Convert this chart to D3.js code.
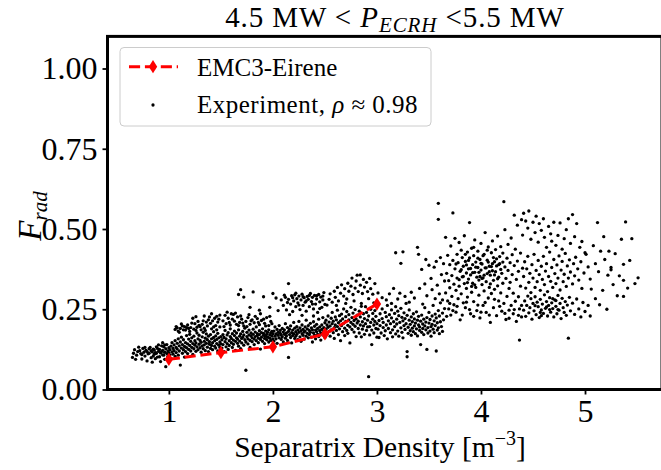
<!DOCTYPE html>
<html>
<head>
<meta charset="utf-8">
<script src="https://cdn.jsdelivr.net/npm/d3@7"></script>
<style>
  body { margin: 0; background: #fff; }
  svg text { font-family: "Liberation Serif", "DejaVu Serif", serif; fill: #000; }
</style>
</head>
<body>
<svg id="chart" width="661" height="470"></svg>
<script>
// EMC3-Eirene simulation points
const emcDensity = [1.0, 1.5, 2.0, 2.5, 3.0];
const emcFrad = [0.094, 0.115, 0.133, 0.173, 0.266];

const expLow = [
  0.65,.100, 0.66,.113, 0.67,.124, 0.69,.107, 0.70,.118, 0.72,.121, 0.73,.112, 0.74,.095, 0.75,.128, 0.76,.116,
  0.77,.104, 0.78,.122, 0.79,.118, 0.79,.089, 0.80,.111, 0.81,.113, 0.82,.131, 0.83,.121, 0.83,.099, 0.84,.117,
  0.85,.104, 0.85,.126, 0.86,.123, 0.86,.110, 0.87,.115, 0.88,.113, 0.88,.133, 0.89,.128, 0.89,.101, 0.90,.119,
  0.91,.102, 0.91,.125, 0.92,.087, 0.92,.114, 0.93,.118, 0.93,.136, 0.94,.108, 0.94,.122, 0.95,.133, 0.95,.107,
  0.96,.116, 0.96,.094, 0.97,.071, 0.97,.127, 0.98,.112, 0.98,.140, 0.99,.120, 0.99,.103, 1.00,.130, 1.00,.115,
  0.87,.096, 0.90,.139, 0.84,.085, 0.81,.127, 0.77,.131, 0.71,.132, 0.68,.094, 0.74,.109, 0.94,.146, 0.96,.139,
  1.01,.108, 1.01,.124, 1.02,.135, 1.02,.097, 1.03,.117, 1.03,.146, 1.04,.128, 1.04,.110, 1.05,.139, 1.05,.121,
  1.06,.152, 1.06,.103, 1.07,.131, 1.07,.115, 1.08,.144, 1.08,.126, 1.09,.158, 1.09,.107, 1.10,.136, 1.10,.120,
  1.11,.076, 1.11,.148, 1.12,.129, 1.12,.163, 1.13,.113, 1.13,.140, 1.14,.124, 1.14,.155, 1.15,.134, 1.15,.101,
  1.16,.146, 1.16,.118, 1.17,.168, 1.17,.130, 1.18,.142, 1.18,.112, 1.19,.157, 1.19,.125, 1.20,.137, 1.20,.172,
  1.21,.120, 1.21,.150, 1.22,.131, 1.22,.161, 1.23,.143, 1.23,.109, 1.24,.127, 1.24,.166, 1.25,.138, 1.25,.152,
  1.26,.119, 1.26,.145, 1.27,.176, 1.27,.133, 1.28,.158, 1.28,.124, 1.29,.141, 1.29,.169, 1.30,.130, 1.30,.153,
  1.31,.116, 1.31,.147, 1.32,.164, 1.32,.136, 1.33,.127, 1.33,.178, 1.34,.150, 1.34,.139, 1.35,.121, 1.35,.160,
  1.36,.144, 1.36,.173, 1.37,.132, 1.37,.155, 1.38,.118, 1.38,.166, 1.39,.141, 1.39,.149, 1.40,.128, 1.40,.171,
  1.41,.137, 1.41,.158, 1.42,.146, 1.42,.124, 1.43,.162, 1.43,.180, 1.44,.135, 1.44,.152, 1.45,.129, 1.45,.167,
  1.46,.143, 1.46,.156, 1.47,.120, 1.47,.175, 1.48,.138, 1.48,.161, 1.49,.148, 1.49,.131, 1.50,.165, 1.50,.142,
  1.06,.187, 1.07,.196, 1.09,.182, 1.11,.190, 1.13,.198, 1.15,.196, 1.16,.185, 1.18,.201, 1.19,.190, 1.21,.193,
  1.23,.222, 1.24,.188, 1.25,.205, 1.27,.194, 1.28,.212, 1.30,.196, 1.31,.186, 1.32,.203, 1.34,.191, 1.36,.210,
  1.37,.198, 1.38,.217, 1.40,.206, 1.41,.189, 1.42,.214, 1.44,.222, 1.45,.199, 1.46,.228, 1.47,.210, 1.49,.232,
  1.49,.195, 1.08,.192, 1.10,.178, 1.12,.204, 1.14,.186, 1.17,.193, 1.20,.181, 1.22,.207, 1.26,.184, 1.29,.200,
  1.33,.214, 1.35,.184, 1.39,.226, 1.43,.195, 1.48,.219, 1.46,.186, 1.26,.227, 1.34,.229, 1.41,.236
];

const expMid = [
  1.51,.129, 1.51,.155, 1.52,.171, 1.52,.140, 1.53,.118, 1.53,.162, 1.54,.149, 1.54,.184, 1.55,.133, 1.55,.158,
  1.56,.170, 1.56,.143, 1.57,.125, 1.57,.177, 1.58,.152, 1.58,.137, 1.59,.165, 1.59,.189, 1.60,.146, 1.60,.159,
  1.61,.131, 1.61,.174, 1.62,.154, 1.62,.141, 1.63,.168, 1.63,.182, 1.64,.150, 1.64,.122, 1.65,.161, 1.65,.176,
  1.66,.144, 1.66,.157, 1.67,.186, 1.67,.135, 1.68,.166, 1.68,.151, 1.69,.173, 1.69,.127, 1.70,.159, 1.70,.145,
  1.71,.181, 1.71,.163, 1.72,.138, 1.72,.170, 1.73,.155, 1.73,.191, 1.74,.060, 1.74,.148, 1.75,.165, 1.75,.178,
  1.76,.142, 1.76,.158, 1.77,.185, 1.77,.170, 1.78,.153, 1.78,.131, 1.79,.167, 1.79,.176, 1.80,.149, 1.80,.161,
  1.81,.188, 1.81,.172, 1.82,.157, 1.82,.140, 1.83,.179, 1.83,.165, 1.84,.152, 1.84,.195, 1.85,.168, 1.85,.174,
  1.86,.146, 1.86,.160, 1.87,.183, 1.87,.171, 1.88,.156, 1.88,.126, 1.89,.177, 1.89,.163, 1.90,.150, 1.90,.189,
  1.91,.169, 1.91,.175, 1.92,.159, 1.92,.143, 1.93,.182, 1.93,.166, 1.94,.172, 1.94,.155, 1.95,.178, 1.95,.163,
  1.96,.148, 1.96,.186, 1.97,.170, 1.97,.160, 1.98,.176, 1.98,.153, 1.99,.181, 1.99,.167, 2.00,.158, 2.00,.174,
  1.52,.214, 1.54,.231, 1.55,.205, 1.57,.222, 1.59,.201, 1.60,.236, 1.62,.234, 1.63,.213, 1.65,.203, 1.66,.226,
  1.68,.209, 1.70,.219, 1.72,.198, 1.74,.212, 1.76,.224, 1.78,.203, 1.80,.217, 1.82,.208, 1.85,.221, 1.87,.202,
  1.89,.215, 1.92,.206, 1.94,.224, 1.96,.199, 1.98,.212, 1.53,.196, 1.56,.241, 1.58,.209, 1.61,.219, 1.64,.238,
  1.67,.199, 1.69,.229, 1.71,.207, 1.75,.196, 1.77,.233, 1.79,.214, 1.83,.228, 1.86,.209, 1.88,.236, 1.91,.219,
  1.93,.198, 1.97,.228, 1.99,.205,
  1.67,.296, 1.69,.311, 1.72,.288, 1.81,.304, 1.91,.289, 1.97,.256, 2.00,.299, 2.03,.285, 1.87,.247, 1.78,.256,
  2.01,.151, 2.01,.182, 2.02,.166, 2.02,.195, 2.03,.173, 2.03,.158, 2.04,.187, 2.04,.144, 2.05,.169, 2.05,.178,
  2.06,.161, 2.06,.199, 2.07,.175, 2.07,.184, 2.08,.156, 2.08,.170, 2.09,.190, 2.09,.164, 2.10,.179, 2.10,.148,
  2.11,.186, 2.11,.172, 2.12,.160, 2.12,.205, 2.13,.176, 2.13,.167, 2.14,.193, 2.14,.153, 2.15,.100, 2.15,.181,
  2.16,.171, 2.16,.188, 2.17,.162, 2.17,.198, 2.18,.177, 2.18,.145, 2.19,.185, 2.19,.168, 2.20,.174, 2.20,.209,
  2.21,.159, 2.21,.191, 2.22,.180, 2.22,.166, 2.23,.196, 2.23,.172, 2.24,.155, 2.24,.186, 2.25,.178, 2.25,.212,
  2.26,.164, 2.26,.192, 2.27,.183, 2.27,.150, 2.28,.174, 2.28,.201, 2.29,.169, 2.29,.187, 2.30,.179, 2.30,.157,
  2.31,.195, 2.31,.182, 2.32,.166, 2.32,.216, 2.33,.175, 2.33,.189, 2.34,.161, 2.34,.199, 2.35,.184, 2.35,.171,
  2.36,.206, 2.36,.178, 2.37,.163, 2.37,.192, 2.38,.186, 2.38,.148, 2.39,.176, 2.39,.211, 2.40,.169, 2.40,.197,
  2.41,.185, 2.41,.158, 2.42,.180, 2.42,.203, 2.43,.172, 2.43,.190, 2.44,.165, 2.44,.219, 2.45,.183, 2.45,.195,
  2.46,.176, 2.46,.154, 2.47,.201, 2.47,.187, 2.48,.170, 2.48,.224, 2.49,.193, 2.49,.181, 2.50,.162, 2.50,.208,
  2.10,.262, 2.12,.287, 2.13,.248, 2.15,.330, 2.15,.281, 2.17,.266, 2.18,.292, 2.19,.243, 2.20,.276, 2.21,.295,
  2.22,.258, 2.23,.283, 2.24,.270, 2.25,.291, 2.26,.249, 2.27,.279, 2.28,.297, 2.29,.262, 2.30,.286, 2.31,.272,
  2.32,.244, 2.33,.290, 2.34,.281, 2.35,.258, 2.36,.299, 2.37,.274, 2.38,.287, 2.39,.251, 2.40,.293, 2.41,.266,
  2.42,.282, 2.43,.240, 2.44,.296, 2.45,.273, 2.46,.288, 2.47,.256, 2.48,.279, 2.49,.302, 2.50,.265, 2.16,.233,
  2.28,.231, 2.39,.229, 2.05,.246, 2.08,.279, 2.11,.294, 2.14,.271, 2.19,.286, 2.22,.300, 2.25,.263, 2.29,.289,
  2.32,.276, 2.35,.293, 2.38,.266, 2.42,.292, 2.45,.252, 2.48,.291
];

const expHigh = [
  2.51,.188, 2.51,.216, 2.52,.173, 2.52,.201, 2.53,.194, 2.53,.229, 2.54,.181, 2.54,.210, 2.55,.166, 2.55,.198,
  2.56,.222, 2.56,.186, 2.57,.205, 2.57,.240, 2.58,.177, 2.58,.213, 2.59,.193, 2.59,.159, 2.60,.226, 2.60,.201,
  2.61,.184, 2.61,.217, 2.62,.196, 2.62,.247, 2.63,.171, 2.63,.208, 2.64,.230, 2.64,.189, 2.65,.214, 2.65,.152,
  2.66,.199, 2.66,.235, 2.67,.180, 2.67,.220, 2.68,.206, 2.68,.251, 2.69,.191, 2.69,.168, 2.70,.227, 2.70,.212,
  2.71,.184, 2.71,.243, 2.72,.200, 2.72,.175, 2.73,.233, 2.73,.217, 2.74,.195, 2.74,.145, 2.75,.209, 2.75,.256,
  2.76,.187, 2.76,.224, 2.77,.203, 2.77,.238, 2.78,.179, 2.78,.215, 2.79,.197, 2.79,.249, 2.80,.220, 2.80,.165,
  2.81,.207, 2.81,.232, 2.82,.190, 2.82,.213, 2.83,.244, 2.83,.176, 2.84,.201, 2.84,.226, 2.85,.164, 2.85,.259,
  2.86,.211, 2.86,.188, 2.87,.236, 2.87,.198, 2.88,.221, 2.88,.172, 2.89,.258, 2.89,.205, 2.90,.184, 2.90,.240,
  2.91,.216, 2.91,.195, 2.92,.040, 2.92,.229, 2.93,.196, 2.93,.170, 2.94,.250, 2.94,.209, 2.95,.140, 2.95,.185,
  2.96,.237, 2.96,.219, 2.97,.201, 2.97,.176, 2.98,.246, 2.98,.212, 2.99,.190, 2.99,.228, 3.00,.205, 3.00,.163,
  2.52,.263, 2.54,.281, 2.55,.298, 2.57,.272, 2.59,.306, 2.60,.287, 2.62,.318, 2.63,.276, 2.65,.300, 2.66,.326,
  2.68,.291, 2.69,.314, 2.71,.282, 2.72,.331, 2.73,.306, 2.75,.322, 2.76,.347, 2.77,.296, 2.79,.316, 2.80,.338,
  2.81,.356, 2.82,.305, 2.84,.357, 2.84,.325, 2.86,.299, 2.87,.343, 2.88,.319, 2.90,.334, 2.91,.305, 2.93,.346,
  2.94,.314, 2.96,.297, 2.98,.330, 2.61,.262, 2.70,.268, 2.78,.276, 2.85,.268, 2.92,.283, 2.97,.270, 3.01,.301,
  3.01,.188, 3.02,.215, 3.02,.162, 3.03,.236, 3.03,.199, 3.04,.176, 3.05,.221, 3.05,.251, 3.06,.193, 3.06,.209,
  3.07,.168, 3.08,.240, 3.08,.183, 3.09,.227, 3.09,.201, 3.10,.158, 3.10,.262, 3.11,.214, 3.11,.190, 3.12,.233,
  3.13,.177, 3.13,.205, 3.14,.248, 3.14,.223, 3.15,.186, 3.15,.164, 3.16,.315, 3.16,.211, 3.17,.237, 3.17,.196,
  3.18,.173, 3.18,.258, 3.19,.219, 3.19,.204, 3.20,.182, 3.20,.244, 3.21,.230, 3.21,.166, 3.22,.300, 3.22,.209,
  3.23,.192, 3.23,.253, 3.24,.178, 3.24,.225, 3.25,.214, 3.25,.161, 3.26,.199, 3.26,.239, 3.27,.187, 3.27,.221,
  3.28,.205, 3.28,.268, 3.29,.118, 3.29,.102, 3.29,.231, 3.30,.194, 3.30,.175, 3.31,.216, 3.31,.248, 3.32,.183,
  3.32,.203, 3.33,.226, 3.33,.169, 3.34,.211, 3.34,.191, 3.35,.236, 3.35,.180, 3.36,.198, 3.36,.220, 3.37,.174,
  3.37,.207, 3.38,.189, 3.38,.242, 3.39,.216, 3.39,.167, 3.40,.201, 3.40,.228, 3.41,.184, 3.41,.195, 3.42,.213,
  3.42,.140, 3.43,.178, 3.43,.232, 3.44,.204, 3.44,.190, 3.45,.219, 3.45,.171, 3.46,.198, 3.46,.255, 3.47,.186,
  3.47,.210, 3.48,.125, 3.48,.224, 3.49,.193, 3.49,.176, 3.50,.240, 3.50,.207, 3.51,.182, 3.51,.218, 3.52,.196,
  3.52,.166, 3.53,.229, 3.53,.203, 3.54,.188, 3.54,.262, 3.55,.214, 3.55,.177, 3.56,.235, 3.56,.199, 3.57,.120,
  3.57,.223, 3.58,.185, 3.58,.208, 3.59,.246, 3.59,.192, 3.60,.174, 3.60,.229, 3.61,.211, 3.61,.270, 3.62,.196,
  3.63,.238, 3.63,.181, 3.64,.217, 3.65,.252,
  3.05,.286, 3.09,.279, 3.12,.298, 3.18,.426, 3.20,.282, 3.23,.393, 3.25,.429, 3.27,.290, 3.33,.303, 3.36,.285,
  3.39,.443, 3.40,.421, 3.41,.315, 3.43,.374, 3.46,.329, 3.47,.405, 3.48,.292, 3.50,.387, 3.52,.346, 3.53,.311,
  3.55,.381, 3.57,.399, 3.58,.325, 3.59,.580, 3.59,.530, 3.60,.298, 3.61,.411, 3.62,.358, 3.63,.279, 3.64,.392,
  3.65,.338, 3.14,.268, 3.31,.272, 3.44,.266, 3.56,.283
];

const expCloud = [
  3.66,.474, 3.66,.301, 3.67,.362, 3.67,.228, 3.68,.418, 3.68,.276, 3.69,.339, 3.69,.251, 3.70,.389, 3.70,.317,
  3.71,.447, 3.71,.232, 3.72,.355, 3.72,.290, 3.73,.550, 3.73,.402, 3.74,.328, 3.74,.264, 3.75,.376, 3.75,.471,
  3.76,.309, 3.76,.241, 3.77,.421, 3.77,.347, 3.78,.283, 3.78,.395, 3.79,.458, 3.79,.322, 3.80,.368, 3.80,.217,
  3.81,.434, 3.81,.298, 3.82,.351, 3.82,.411, 3.83,.270, 3.83,.384, 3.84,.330, 3.84,.479, 3.85,.255, 3.85,.399,
  3.86,.363, 3.86,.315, 3.87,.428, 3.87,.288, 3.88,.344, 3.88,.376, 3.89,.520, 3.89,.410, 3.90,.236, 3.90,.357,
  3.91,.440, 3.91,.303, 3.92,.389, 3.92,.331, 3.93,.274, 3.93,.417, 3.94,.365, 3.94,.466, 3.95,.318, 3.95,.397,
  3.96,.246, 3.96,.350, 3.97,.431, 3.97,.380, 3.98,.294, 3.98,.341, 3.99,.405, 3.99,.223, 4.00,.372, 4.00,.455,
  4.01,.327, 4.01,.391, 4.02,.262, 4.02,.348, 4.03,.421, 4.03,.307, 4.04,.379, 4.04,.489, 4.05,.336, 4.05,.240,
  4.06,.403, 4.06,.361, 4.07,.285, 4.07,.444, 4.08,.318, 4.08,.384, 4.09,.356, 4.09,.209, 4.10,.426, 4.10,.299,
  4.11,.370, 4.11,.463, 4.12,.340, 4.12,.255, 4.13,.398, 4.13,.312, 4.14,.436, 4.14,.367, 4.15,.230, 4.15,.385,
  4.16,.323, 4.16,.478, 4.17,.350, 4.17,.276, 4.18,.414, 4.18,.392, 4.19,.301, 4.19,.445, 4.20,.244, 4.20,.362,
  4.21,.425, 4.21,.331, 4.22,.585, 4.22,.268, 4.23,.382, 4.23,.498, 4.24,.346, 4.24,.218, 4.25,.409, 4.25,.290,
  4.26,.371, 4.26,.452, 4.27,.315, 4.27,.247, 4.28,.395, 4.28,.334, 4.29,.472, 4.29,.262, 4.30,.358, 4.30,.420,
  4.31,.236, 4.31,.300, 4.32,.386, 4.32,.543, 4.33,.275, 4.33,.437, 4.34,.343, 4.34,.212, 4.35,.400, 4.35,.512,
  4.36,.289, 4.36,.368, 4.37,.154, 4.37,.251, 4.38,.425, 4.38,.322, 4.39,.529, 4.39,.226, 4.40,.378, 4.40,.481,
  3.81,.373, 3.83,.352, 3.85,.421, 3.86,.388, 3.88,.402, 3.90,.377, 3.92,.364, 3.93,.443, 3.95,.381, 3.97,.409,
  3.98,.365, 4.00,.393, 4.02,.417, 4.03,.356, 4.05,.379, 4.07,.397, 4.08,.367, 4.10,.383, 4.12,.411, 4.13,.357,
  4.15,.407, 4.17,.389, 4.19,.374, 4.21,.397, 3.87,.333, 3.94,.326, 4.01,.346, 4.09,.329, 4.16,.345, 3.79,.342,
  3.76,.391, 4.06,.434, 3.99,.352, 3.91,.321, 4.11,.392,
  3.70,.268, 3.73,.246, 3.77,.259, 3.82,.232, 3.86,.272, 3.89,.249, 3.93,.228, 3.97,.263, 4.00,.241, 4.04,.271,
  4.08,.232, 4.13,.281, 4.18,.259, 4.23,.237, 4.27,.222, 4.32,.249, 4.36,.231, 4.39,.262
];

const expTail = [
  4.41,.549, 4.43,.525, 4.45,.503, 4.46,.556, 4.48,.468, 4.50,.521, 4.52,.489, 4.53,.540, 4.55,.459, 4.56,.517,
  4.58,.496, 4.60,.532, 4.61,.474, 4.63,.443, 4.65,.508, 4.67,.485, 4.68,.462, 4.70,.521, 4.72,.449, 4.74,.480,
  4.76,.519, 4.78,.437, 4.80,.470, 4.82,.498, 4.84,.532, 4.86,.455, 4.88,.545, 4.90,.476, 4.92,.517, 4.95,.443,
  4.97,.461, 5.00,.426,
  4.41,.352, 4.42,.398, 4.43,.316, 4.44,.376, 4.45,.415, 4.46,.334, 4.47,.362, 4.48,.302, 4.49,.389, 4.50,.347,
  4.51,.421, 4.52,.318, 4.53,.371, 4.54,.336, 4.55,.402, 4.56,.358, 4.57,.309, 4.58,.384, 4.59,.343, 4.60,.415,
  4.61,.327, 4.62,.369, 4.63,.392, 4.64,.305, 4.65,.352, 4.66,.428, 4.67,.337, 4.68,.380, 4.69,.318, 4.70,.405,
  4.71,.361, 4.72,.330, 4.73,.388, 4.74,.347, 4.75,.416, 4.76,.310, 4.77,.372, 4.78,.399, 4.79,.336, 4.80,.359,
  4.81,.424, 4.82,.321, 4.83,.385, 4.84,.347, 4.85,.404, 4.86,.366, 4.88,.329, 4.89,.392, 4.90,.354, 4.91,.412,
  4.93,.376, 4.94,.341, 4.96,.398, 4.97,.315, 4.99,.363, 5.01,.421, 5.03,.382, 5.05,.344,
  4.41,.247, 4.42,.276, 4.43,.228, 4.44,.262, 4.45,.291, 4.46,.239, 4.47,.255, 4.48,.283, 4.49,.219, 4.50,.268,
  4.51,.245, 4.52,.289, 4.53,.233, 4.54,.272, 4.55,.258, 4.56,.224, 4.57,.281, 4.58,.248, 4.59,.266, 4.60,.237,
  4.61,.295, 4.62,.253, 4.63,.274, 4.64,.229, 4.65,.262, 4.66,.286, 4.67,.241, 4.68,.270, 4.69,.252, 4.70,.226,
  4.71,.279, 4.72,.259, 4.73,.236, 4.74,.293, 4.75,.247, 4.76,.268, 4.77,.221, 4.78,.284, 4.79,.255, 4.80,.240,
  4.81,.274, 4.82,.231, 4.83,.263, 4.84,.160, 4.85,.287, 4.86,.245, 4.88,.269, 4.90,.234, 4.92,.282, 4.94,.251,
  4.96,.226, 4.98,.271, 5.00,.243, 5.03,.262, 5.05,.229, 4.52,.261, 4.58,.230, 4.63,.257, 4.69,.283, 4.74,.249,
  4.57,.240, 4.66,.249, 4.72,.277,
  5.08,.448, 5.10,.392, 5.12,.520, 5.13,.367, 5.15,.431, 5.17,.309, 5.19,.405, 5.21,.250, 5.22,.356, 5.25,.380,
  5.25,.373, 5.27,.327, 5.29,.423, 5.31,.292, 5.33,.354, 5.35,.468, 5.37,.390, 5.37,.340, 5.37,.290, 5.39,.522,
  5.41,.316, 5.43,.402, 5.45,.470, 5.48,.330, 5.51,.348, 5.10,.283, 5.14,.264, 5.18,.476, 5.06,.313, 5.23,.431
];

const xTicks = [1, 2, 3, 4, 5];
const yTicks = [0, 0.25, 0.5, 0.75, 1.0];

const pairs = arr => d3.range(0, arr.length, 2).map(i => [arr[i], arr[i + 1]]);
const experiment = [].concat(pairs(expLow), pairs(expMid), pairs(expHigh), pairs(expCloud), pairs(expTail));
const emc = emcDensity.map((d, i) => [d, emcFrad[i]]);

const svg = d3.select("#chart");
const serif = '"Liberation Serif", "DejaVu Serif", serif';
const plot = { left: 107.5, right: 662, top: 36.4, bottom: 389.5 };

const x = d3.scaleLinear().domain([0.41, 5.74]).range([plot.left, plot.right]);
const y = d3.scaleLinear().domain([0, 1.1]).range([plot.bottom, plot.top]);

svg.append("rect").attr("width", 661).attr("height", 470).attr("fill", "#fff");

svg.append("defs").append("clipPath").attr("id", "clip")
  .append("rect")
  .attr("x", plot.left).attr("y", plot.top)
  .attr("width", plot.right - plot.left).attr("height", plot.bottom - plot.top);

// scatter
svg.append("g").attr("clip-path", "url(#clip)")
  .selectAll("circle")
  .data(experiment)
  .join("circle")
  .attr("cx", d => x(d[0]))
  .attr("cy", d => y(d[1]))
  .attr("r", 1.65)
  .attr("fill", "#000");

// EMC3-Eirene line
const diamond = "M0,-6.6L4.2,0L0,6.6L-4.2,0Z";
svg.append("path")
  .datum(emc)
  .attr("d", d3.line().x(d => x(d[0])).y(d => y(d[1])))
  .attr("fill", "none")
  .attr("stroke", "#ff0000")
  .attr("stroke-width", 3)
  .attr("stroke-dasharray", "11.1,4.8");
svg.append("g").selectAll("path")
  .data(emc)
  .join("path")
  .attr("d", diamond)
  .attr("transform", d => `translate(${x(d[0])},${y(d[1])})`)
  .attr("fill", "#ff0000");

// axes
const xAxis = svg.append("g")
  .attr("transform", `translate(0,${plot.bottom})`)
  .call(d3.axisBottom(x).tickValues(xTicks).tickFormat(d3.format("d")).tickSize(5).tickPadding(5));
const yAxis = svg.append("g")
  .attr("transform", `translate(${plot.left},0)`)
  .call(d3.axisLeft(y).tickValues(yTicks).tickFormat(d3.format(".2f")).tickSize(5).tickPadding(5));
[xAxis, yAxis].forEach(a => {
  a.attr("font-family", serif);
  a.select(".domain").remove();
  a.selectAll(".tick line").attr("stroke", "#000").attr("stroke-width", 1.8);
  a.selectAll(".tick text")
    .attr("fill", "#000")
    .style("font-family", serif)
    .style("font-size", "32px");
});

// frame
svg.append("rect")
  .attr("x", plot.left).attr("y", plot.top)
  .attr("width", plot.right - plot.left).attr("height", plot.bottom - plot.top)
  .attr("fill", "none")
  .attr("stroke", "#000")
  .attr("stroke-width", 3);

// title
const title = svg.append("text")
  .attr("x", 395)
  .attr("y", 27)
  .attr("text-anchor", "middle")
  .style("font-family", serif)
  .style("font-size", "29px")
  .style("letter-spacing", "0.9px");
title.append("tspan").text("4.5 MW < ");
title.append("tspan").attr("font-style", "italic").text("P");
title.append("tspan").attr("font-style", "italic").attr("font-size", "21px").attr("dy", 5).text("ECRH");
title.append("tspan").attr("dy", -5).text(" <5.5 MW");

// x label
const xLabel = svg.append("text")
  .attr("x", 380)
  .attr("y", 457)
  .attr("text-anchor", "middle")
  .style("font-family", serif)
  .style("font-size", "29.5px");
xLabel.append("tspan").text("Separatrix Density [m");
xLabel.append("tspan").attr("font-size", "20px").attr("dy", -12).text("\u22123");
xLabel.append("tspan").attr("dy", 12).text("]");

// y label
const yLabel = svg.append("text")
  .attr("transform", `translate(41,216) rotate(-90)`)
  .attr("text-anchor", "middle")
  .style("font-family", serif)
  .style("font-size", "33px");
yLabel.append("tspan").attr("font-style", "italic").text("F");
yLabel.append("tspan").attr("font-style", "italic").attr("font-size", "21px").attr("dy", 6).text("rad");

// legend
const legend = svg.append("g");
legend.append("rect")
  .attr("x", 120).attr("y", 47.5)
  .attr("width", 311).attr("height", 78.5)
  .attr("rx", 4)
  .attr("fill", "#fff").attr("fill-opacity", 0.8)
  .attr("stroke", "#cccccc").attr("stroke-width", 1);
legend.append("line")
  .attr("x1", 129).attr("x2", 178).attr("y1", 66.7).attr("y2", 66.7)
  .attr("stroke", "#ff0000").attr("stroke-width", 3)
  .attr("stroke-dasharray", "11.1,4.8");
legend.append("path")
  .attr("d", diamond)
  .attr("transform", "translate(153,66.7)")
  .attr("fill", "#ff0000");
legend.append("text")
  .attr("x", 197).attr("y", 75.5)
  .style("font-family", serif)
  .style("font-size", "25px")
  .text("EMC3-Eirene");
legend.append("circle")
  .attr("cx", 153).attr("cy", 105).attr("r", 1.65).attr("fill", "#000");
const expLabel = legend.append("text")
  .attr("x", 197).attr("y", 113)
  .style("font-family", serif)
  .style("font-size", "25px")
  .style("letter-spacing", "0.5px");
expLabel.append("tspan").text("Experiment, ");
expLabel.append("tspan").attr("font-style", "italic").text("\u03c1");
expLabel.append("tspan").text(" \u2248 0.98");
</script>
</body>
</html>
